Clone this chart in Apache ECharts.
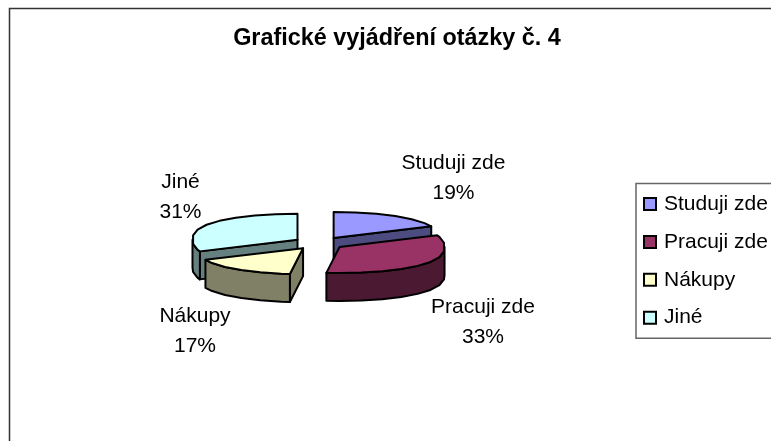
<!DOCTYPE html>
<html><head><meta charset="utf-8">
<style>html,body{margin:0;padding:0;background:#fff}#c{width:771px;height:441px}</style>
<script src="https://cdn.jsdelivr.net/npm/echarts@6/dist/echarts.min.js"></script>
</head><body><div id="c"></div>
<script>
const categories = ['Studuji zde','Pracuji zde','Nákupy','Jiné'];
const values = [19,33,17,31];
const topColors = ['#9999FF','#993366','#FFFFCC','#CCFFFF'];
const sideColors = ['#4C4C80','#4C1933','#808066','#668080'];
const labelAnchors = [[453.5,178],[483,322],[195,331],[180.5,197]];
const layers = [2,3,3,2];

const FONT = '"Liberation Sans", Arial, sans-serif';
const CX = 319, CY = 243.2, RX = 105, RY = 26, DEPTH = 28, EX = 26, EY = 6.25, STEP = 12, BULGE = 0.8;
const total = values.reduce((a,b)=>a+b,0);
const chart = echarts.init(document.getElementById('c'));

function pt(ax, ay, deg){
  const r=deg*Math.PI/180, c=Math.cos(r);
  return [ax+RX*Math.sin(r), ay-RY*Math.sign(c)*Math.pow(Math.abs(c),BULGE)];
}
function renderSlice(i){
  let cum = 0; for(let k=0;k<i;k++) cum+=values[k];
  const a0 = cum/total*360, a1 = (cum+values[i])/total*360, mid=(a0+a1)/2*Math.PI/180;
  const ax = CX+EX*Math.sin(mid), ay = CY-EY*Math.cos(mid);
  const arcAngles=[a0];
  for(let a=Math.ceil(a0/STEP)*STEP;a<a1;a+=STEP) if(a>a0) arcAngles.push(a);
  arcAngles.push(a1);
  const apex=[ax,ay], arc=arcAngles.map(a=>pt(ax,ay,a));
  const els=[];
  const stroke={stroke:'#000',lineWidth:2,lineJoin:'round'};
  const wall=(chain)=>{
    const pts=chain.concat(chain.slice().reverse().map(p=>[p[0],p[1]+DEPTH]));
    els.push({type:'polygon',shape:{points:pts},style:Object.assign({fill:sideColors[i]},stroke)});
  };
  const s=arc[0], e=arc[arc.length-1];
  if(e[0]>ax) wall([e,apex]);
  if(s[0]<ax) wall([apex,s]);
  const front=arcAngles.map((a,j)=>[a,arc[j]]).filter(o=>o[0]>=90&&o[0]<=270).map(o=>o[1]);
  if(a0<90&&a1>90) front.unshift(pt(ax,ay,90));
  if(a0<270&&a1>270) front.push(pt(ax,ay,270));
  if(front.length>1) wall(front);
  els.push({type:'polygon',shape:{points:[apex].concat(arc)},style:Object.assign({fill:topColors[i]},stroke)});
  els.push({type:'text',x:labelAnchors[i][0],y:labelAnchors[i][1],style:{
    text:categories[i]+'\n'+Math.round(values[i]/total*100)+'%',
    font:'21px '+FONT,fill:'#000',align:'center',verticalAlign:'middle',lineHeight:30}});
  return {type:'group',children:els};
}

chart.setOption({
  animation:false,
  backgroundColor:'#fff',
  title:{text:'Grafické vyjádření otázky č. 4',left:392,top:22,textAlign:'center',
    textStyle:{fontFamily:FONT,fontWeight:'bold',fontSize:23.4,color:'#000'}},
  graphic:[{type:'rect',silent:true,shape:{x:9.5,y:8.5,width:800,height:480},
    style:{fill:'none',stroke:'#333',lineWidth:1.5}}],
  legend:{orient:'vertical',left:636,top:183.5,padding:[10,20,10,7],
    itemWidth:12,itemHeight:12,itemGap:16.9,
    borderColor:'#666',borderWidth:1.5,backgroundColor:'#fff',
    textStyle:{fontFamily:FONT,fontSize:21,color:'#000',padding:[0,0,0,3]},
    data:categories.map((n,i)=>({name:n,icon:'rect',
      itemStyle:{color:topColors[i],borderColor:'#000',borderWidth:2}}))},
  series:categories.map((n,i)=>({
    type:'custom',name:n,coordinateSystem:'none',z:layers[i],silent:true,
    itemStyle:{color:topColors[i]},
    data:[values[i]],
    renderItem:()=>renderSlice(i)
  }))
});
</script></body></html>
